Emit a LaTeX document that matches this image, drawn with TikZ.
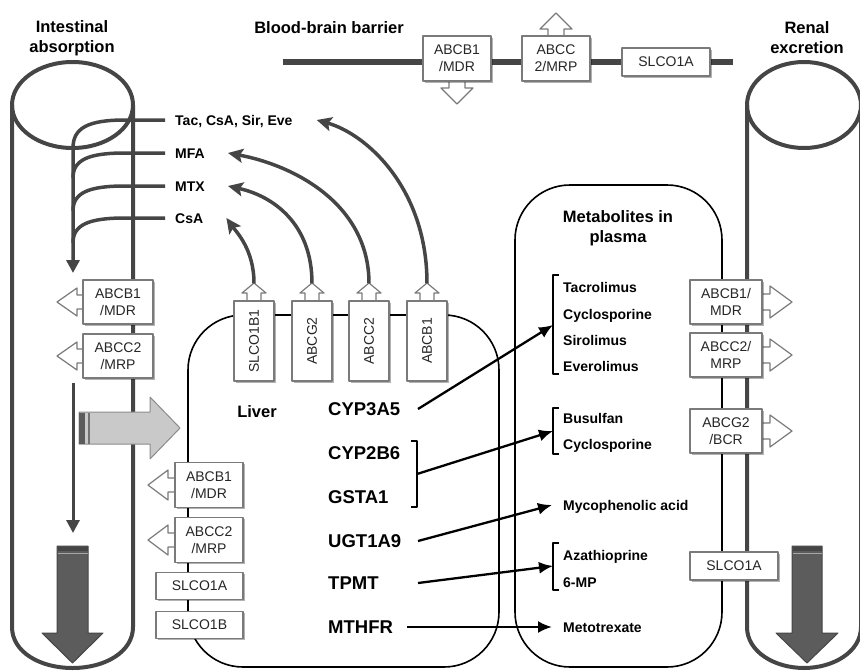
\documentclass[tikz,border=0pt]{standalone}
\usepackage{fontspec}
\setmainfont{Liberation Sans}
\usetikzlibrary{arrows.meta,shadows}
\definecolor{dk}{HTML}{454545}
\definecolor{bxc}{HTML}{7A7A7A}
\definecolor{lg}{HTML}{C9C9C9}
\definecolor{ag}{HTML}{5C5C5C}
\tikzset{
  tube/.style={draw=dk, line width=4pt},
  organ/.style={draw=black, line width=1.6pt},
  dkline/.style={draw=dk, line width=3.5pt},
  carrow/.style={draw=dk, line width=3.5pt, -{Stealth[length=15pt,width=14pt,inset=3pt]}},
  barrow/.style={draw=black, line width=2.3pt, -{Latex[length=14pt,width=12pt]}},
  brk/.style={draw=black, line width=1.8pt},
  hd/.style={draw=bxc, line width=1.2pt, fill=white},
  tbox/.style={draw=bxc, line width=1.2pt, fill=white, text=black!85, font=\fontsize{14}{17}\selectfont, align=center, inner sep=0pt, drop shadow={shadow xshift=1.5pt, shadow yshift=-1.5pt, opacity=0.3, fill=black}},
  tb/.style 2 args={tbox, minimum width=#1, minimum height=#2},
  hdr/.style={font=\bfseries\fontsize{16.5}{20}\selectfont, align=center, inner sep=0pt},
  lbl/.style={font=\bfseries\fontsize{14}{17}\selectfont, anchor=west, inner sep=0pt, text height=10pt, text depth=0pt},
  enz/.style={font=\bfseries\fontsize{18.5}{22}\selectfont, anchor=west, inner sep=0pt, text height=13.3pt, text depth=0pt}
}
% arrow head: attach x, attach y, angle, neck length, neck half, head length, head half
\newcommand\trhead[7]{%
  \filldraw[hd, shift={(#1,#2)}, rotate=#3] (-3,-#5) -- (#4,-#5) -- (#4,-#7) -- (#4+#6,0) -- (#4,#7) -- (#4,#5) -- (-3,#5) -- cycle;}
\begin{document}
\begin{tikzpicture}[x=1pt,y=-1pt,line join=round]
\useasboundingbox (0,0) rectangle (860,670);
\clip (0,0) rectangle (860,670);

% ---------- tubes ----------
\draw[tube] (72.5,105) ellipse [x radius=60.5, y radius=43];
\draw[tube] (12,105) -- (12,627) .. controls (12,652) and (40,668) .. (72.5,668)
  .. controls (105,668) and (133,652) .. (133,627) -- (133,105);
\draw[tube] (804,105) ellipse [x radius=57, y radius=43];
\draw[tube] (747,105) -- (747,627) .. controls (747,652) and (775,668) .. (804,668)
  .. controls (833,668) and (861,652) .. (861,627) -- (861,105);

% ---------- organs ----------
\draw[organ, rounded corners=55pt] (188,315) rectangle (499,667);
\draw[organ, rounded corners=55pt] (515,185) rectangle (722,667);

% ---------- blood-brain barrier ----------
\draw[draw=dk, line width=5.5pt] (283,62) -- (733,62);

% ---------- headers ----------
\node[hdr] (intest) at (72,38) {Intestinal\\absorption};
\node[hdr] (bbb) at (329,28) {Blood-brain barrier};
\node[hdr] (renal) at (807,38) {Renal\\excretion};
\node[hdr] (liver) at (257,412) {Liver};
\node[hdr] (metab) at (618,228) {Metabolites in\\plasma};

% ---------- left labels ----------
\node[lbl] (tac) at (175,120) {Tac, CsA, Sir, Eve};
\node[lbl] (mfa) at (175,153) {MFA};
\node[lbl] (mtx) at (175,186) {MTX};
\node[lbl] (csa) at (175,218) {CsA};

\coordinate (in1) at (73,273);
\coordinate (in2s) at (73,383);
\coordinate (in2) at (73,533);
\draw[dkline, -{Triangle[length=13pt,width=13pt]}] ([xshift=-10pt]tac.west) -- (125,120)
  .. controls (88,120) and (73,128) .. (73,148) -- (in1);
\draw[dkline] ([xshift=-10pt]mfa.west) -- (125,153) .. controls (88,153) and (73,160) .. (73,178);
\draw[dkline] ([xshift=-10pt]mtx.west) -- (125,186) .. controls (88,186) and (73,193) .. (73,211);
\draw[dkline] ([xshift=-10pt]csa.west) -- (125,218) .. controls (88,218) and (73,225) .. (73,243);
\draw[draw=dk, line width=3pt, -{Triangle[length=13pt,width=13pt]}] (in2s) -- (in2);

% ---------- big arrows ----------
\filldraw[fill=lg, draw=black!45, line width=1pt] (79,412) -- (150,412) -- (150,397) -- (180,428)
  -- (150,459) -- (150,444) -- (79,444) -- cycle;
\fill[ag] (79,412.5) rectangle (85,443.5);
\fill[black!55] (87.5,412.5) rectangle (90,443.5);

\filldraw[fill=ag, draw=dk, line width=1pt] (57,546) -- (88,546) -- (88,633) -- (103,633) -- (72.5,663)
  -- (42,633) -- (57,633) -- cycle;
\fill[dk] (57.5,546.5) rectangle (87.5,551);
\draw[black!35, line width=1pt] (57.5,553) -- (87.5,553);
\filldraw[fill=ag, draw=dk, line width=1pt] (792,546) -- (822,546) -- (822,633) -- (838,633) -- (807,663)
  -- (776,633) -- (792,633) -- cycle;
\fill[dk] (792.5,546.5) rectangle (821.5,551);
\draw[black!35, line width=1pt] (792.5,553) -- (821.5,553);

% ---------- transporter boxes: intestine ----------
\trhead{83}{302}{180}{6}{7}{20}{14}
\node[tb={70}{44}] (iabcb) at (118,302) {ABCB1\\/MDR};
\trhead{83}{356}{180}{6}{7}{20}{14}
\node[tb={70}{44}] (iabcc) at (118,356) {ABCC2\\/MRP};

% ---------- transporter boxes: liver (blood side) ----------
\trhead{175}{485}{180}{7}{7}{20}{15}
\node[tb={68}{45}] (labcb) at (209,485) {ABCB1\\/MDR};
\trhead{175}{540}{180}{7}{7}{20}{15}
\node[tb={68}{45}] (labcc) at (209,540) {ABCC2\\/MRP};
\node[tb={87}{27}] (lslcoa) at (199.5,586) {SLCO1A};
\node[tb={87}{27}] (lslcob) at (199.5,625) {SLCO1B};

% ---------- transporter boxes: liver (bile side) ----------
\trhead{254}{301}{90}{8}{7}{10}{12}
\node[tb={80}{40}, rotate=90] (slco) at (254,341) {SLCO1B1};
\trhead{312}{301}{90}{8}{7}{10}{12}
\node[tb={80}{40}, rotate=90] (abcg) at (312,341) {ABCG2};
\trhead{369}{301}{90}{8}{7}{10}{12}
\node[tb={80}{40}, rotate=90] (abcc) at (369,341) {ABCC2};
\trhead{427}{301}{90}{8}{7}{10}{12}
\node[tb={80}{40}, rotate=90] (abcb) at (427,341) {ABCB1};

% ---------- transporter boxes: blood-brain barrier ----------
\trhead{457}{81}{-90}{7}{8}{16}{16}
\node[tb={68}{45}] (babcb) at (457,58.5) {ABCB1\\/MDR};
\trhead{556}{36}{90}{7}{8}{16}{16}
\node[tb={68}{45}] (babcc) at (556,58.5) {ABCC\\2/MRP};
\node[tb={88}{28}] (bslco) at (666,62) {SLCO1A};

% ---------- transporter boxes: kidney ----------
\trhead{762}{302}{0}{8}{8}{22}{16}
\node[tb={72}{44}] (rabcb) at (726,302) {ABCB1/\\MDR};
\trhead{762}{355}{0}{8}{8}{22}{16}
\node[tb={72}{44}] (rabcc) at (726,355) {ABCC2/\\MRP};
\trhead{762}{431}{0}{8}{8}{22}{16}
\node[tb={72}{44}] (rabcg) at (726,431) {ABCG2\\/BCR};
\node[tb={88}{28}] (rslco) at (734,566) {SLCO1A};

% ---------- curved arrows from liver ----------
\draw[carrow] ([yshift=17pt]slco.east) .. controls +(0,-34) and +(10,14) .. ([xshift=23pt]csa.east);
\draw[carrow] ([yshift=17pt]abcg.east) .. controls +(0,-60) and +(45,10) .. ([xshift=23pt]mtx.east);
\draw[carrow] ([yshift=17pt]abcc.east) .. controls +(0,-80) and +(65,12) .. ([xshift=23pt]mfa.east);
\draw[carrow] ([yshift=17pt]abcb.east) .. controls +(0,-95) and +(50,14) .. ([xshift=24pt]tac.east);

% ---------- enzymes ----------
\node[enz] (cyp3) at (328,409) {CYP3A5};
\node[enz] (cyp2) at (328,453) {CYP2B6};
\node[enz] (gst) at (328,497) {GSTA1};
\node[enz] (ugt) at (328,541) {UGT1A9};
\node[enz] (tpmt) at (328,583) {TPMT};
\node[enz] (mthfr) at (328,627) {MTHFR};
\coordinate (ax) at (418,0);

% ---------- metabolites ----------
\node[lbl] (tacro) at (563,287) {Tacrolimus};
\node[lbl] (cyclo1) at (563,314) {Cyclosporine};
\node[lbl] (siro) at (563,340) {Sirolimus};
\node[lbl] (evero) at (563,366) {Everolimus};
\node[lbl] (busul) at (563,418) {Busulfan};
\node[lbl] (cyclo2) at (563,444) {Cyclosporine};
\node[lbl] (myco) at (563,505) {Mycophenolic acid};
\node[lbl] (aza) at (563,555) {Azathioprine};
\node[lbl] (smp) at (563,582) {6-MP};
\node[lbl] (meto) at (563,627) {Metotrexate};

% brackets
\draw[brk] (559,275) -- (553,275) -- (553,374) -- (559,374);
\coordinate (m1) at (553,325);
\draw[brk] (559,408) -- (553,408) -- (553,454) -- (559,454);
\coordinate (m2) at (553,431);
\draw[brk] (559,543) -- (553,543) -- (553,590) -- (559,590);
\coordinate (m3) at (553,566);
\draw[brk] (411,441) -- (417,441) -- (417,507) -- (411,507);
\coordinate (e2) at (417,474);

% ---------- black arrows ----------
\draw[barrow] (cyp3.east -| ax) -- (m1);
\draw[barrow] (e2) -- (m2);
\draw[barrow] (ugt.east -| ax) -- ([xshift=-11pt]myco.west);
\draw[barrow] (tpmt.east -| ax) -- (m3);
\draw[barrow] ([xshift=14pt]mthfr.east) -- ([xshift=-11pt]meto.west);
\end{tikzpicture}
\end{document}
